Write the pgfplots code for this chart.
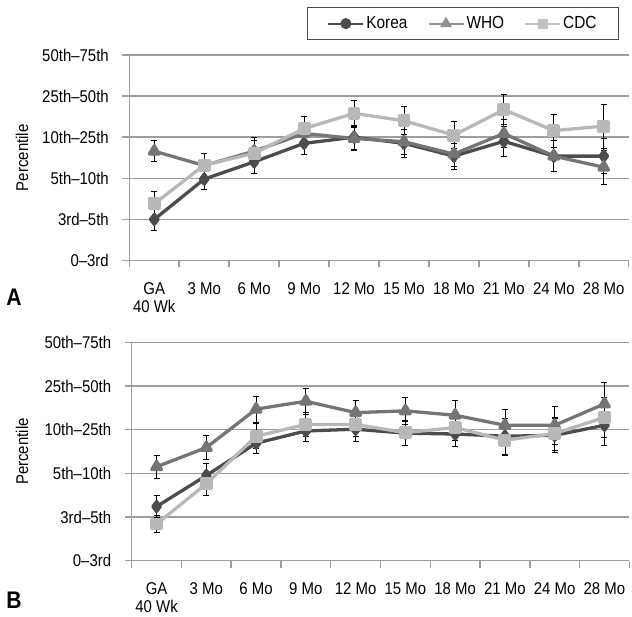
\documentclass[border=0pt]{standalone}
\usepackage{fontspec}
\setmainfont{Liberation Sans}[FakeStretch=0.88]
\usepackage{pgfplots}
\usepackage{pgfplotstable}
\pgfplotsset{compat=1.18}
\definecolor{kor}{gray}{0.30}
\definecolor{who}{gray}{0.46}
\definecolor{cdc}{gray}{0.72}
\definecolor{gridc}{gray}{0.62}

\pgfplotstableread{
x k ek w ew c ec
0 1.00 0.26 2.66 0.26 1.38 0.30
1 1.98 0.25 2.31 0.30 2.32 0.28
2 2.40 0.28 2.66 0.33 2.61 0.30
3 2.85 0.26 3.09 0.28 3.21 0.30
4 3.00 0.29 2.97 0.28 3.58 0.31
5 2.85 0.33 2.89 0.30 3.40 0.34
6 2.54 0.32 2.59 0.30 3.05 0.33
7 2.90 0.37 3.09 0.35 3.67 0.37
8 2.54 0.38 2.54 0.38 3.16 0.40
9 2.54 0.42 2.27 0.41 3.27 0.54
}\dataA

\pgfplotstableread{
x k ek w ew c ec
0 1.24 0.25 2.15 0.26 0.84 0.20
1 1.95 0.27 2.59 0.28 1.76 0.27
2 2.69 0.24 3.47 0.30 2.85 0.29
3 2.97 0.24 3.65 0.29 3.12 0.27
4 3.01 0.29 3.39 0.29 3.12 0.28
5 2.92 0.27 3.43 0.31 2.93 0.28
6 2.90 0.29 3.33 0.34 3.05 0.30
7 2.85 0.41 3.10 0.37 2.76 0.35
8 2.87 0.38 3.10 0.44 2.91 0.38
9 3.10 0.46 3.59 0.49 3.28 0.45
}\dataB

\pgfplotsset{
  panel/.style={
    scale only axis, clip=false,
    xmin=-0.5, xmax=9.5, ymin=0, ymax=5,
    axis lines=left,
    axis line style={gridc, line width=1.5pt, -},
    ymajorgrids, grid style={gridc, line width=1.5pt},
    ytick={0,...,5},
    yticklabels={0–3rd,3rd–5th,5th–10th,10th–25th,25th–50th,50th–75th},
    xtick={0,...,9},
    xticklabels={{GA\\40 Wk},3 Mo,6 Mo,9 Mo,12 Mo,15 Mo,18 Mo,21 Mo,24 Mo,28 Mo},
    minor xtick={-0.5,0.5,...,9.5},
    tick align=outside,
    major tick length=7pt, minor tick length=7pt,
    major x tick style={draw=none},
    minor x tick style={gridc, line width=1.5pt},
    y tick style={gridc, line width=1.5pt},
    x tick label style={align=center, anchor=north, yshift=-11.5pt, font=\fontsize{17}{18}\selectfont},
    y tick label style={anchor=east, xshift=-10pt},
    ylabel=Percentile,
    legend image code/.code={\draw[mark repeat=2,mark phase=2,##1] plot coordinates {(0pt,0pt) (17.5pt,0pt) (35pt,0pt)};},
  },
  ebar/.style={error bars/.cd, y dir=both, y explicit,
    error bar style={black, line width=0.8pt},
    error mark options={black, line width=0.8pt, mark size=3pt, rotate=90}},
  skor/.style={kor, line width=3.3pt, line join=round, mark=diamond*, mark size=5pt, mark options={solid, kor}, forget plot, ebar},
  swho/.style={who, line width=3.3pt, line join=round, mark=triangle*, mark size=5.5pt, mark options={solid, who}, forget plot, ebar},
  scdc/.style={cdc, line width=3.3pt, line join=round, mark=square*, mark size=4.8pt, mark options={solid, cdc}, forget plot, ebar},
}

\begin{document}
\begin{tikzpicture}[font=\fontsize{17}{19}\selectfont]
\path[use as bounding box] (0pt,0pt) rectangle (632pt,616pt);

\begin{axis}[panel, at={(129.3pt,355.5pt)}, anchor=south west,
  width=499.4pt, height=205.5pt,
  ylabel style={at={(axis description cs:-0.215,0.5)}, anchor=center},
  legend columns=3,
  legend style={at={(1,1)}, anchor=south east, xshift=-9.7pt, yshift=15pt,
    draw=black!70, line width=1pt, inner xsep=20pt, inner ysep=7pt,
    /tikz/every even column/.append style={column sep=18pt},
    font=\fontsize{17.5}{19}\selectfont},
]
\addlegendimage{kor, line width=2pt, mark=*, mark size=4.5pt, mark options={solid}}
\addlegendentry{Korea}
\addlegendimage{who!80!white, line width=2pt, mark=triangle*, mark size=5pt, mark options={solid}}
\addlegendentry{WHO}
\addlegendimage{cdc!85!white, line width=2pt, mark=square*, mark size=4pt, mark options={solid}}
\addlegendentry{CDC}
\addplot[skor] table[x=x, y=k, y error=ek] {\dataA};
\addplot[swho] table[x=x, y=w, y error=ew] {\dataA};
\addplot[scdc] table[x=x, y=c, y error=ec] {\dataA};
\end{axis}

\begin{axis}[panel, at={(131.7pt,55.3pt)}, anchor=south west,
  width=497.6pt, height=218.4pt,
  ylabel style={at={(axis description cs:-0.2204,0.5)}, anchor=center},
]
\addplot[skor] table[x=x, y=k, y error=ek] {\dataB};
\addplot[swho] table[x=x, y=w, y error=ew] {\dataB};
\addplot[scdc] table[x=x, y=c, y error=ec] {\dataB};
\end{axis}

\node[font=\fontsize{24}{26}\selectfont\bfseries] at (14pt,319pt) {A};
\node[font=\fontsize{24}{26}\selectfont\bfseries] at (14pt,16pt) {B};
\end{tikzpicture}
\end{document}
